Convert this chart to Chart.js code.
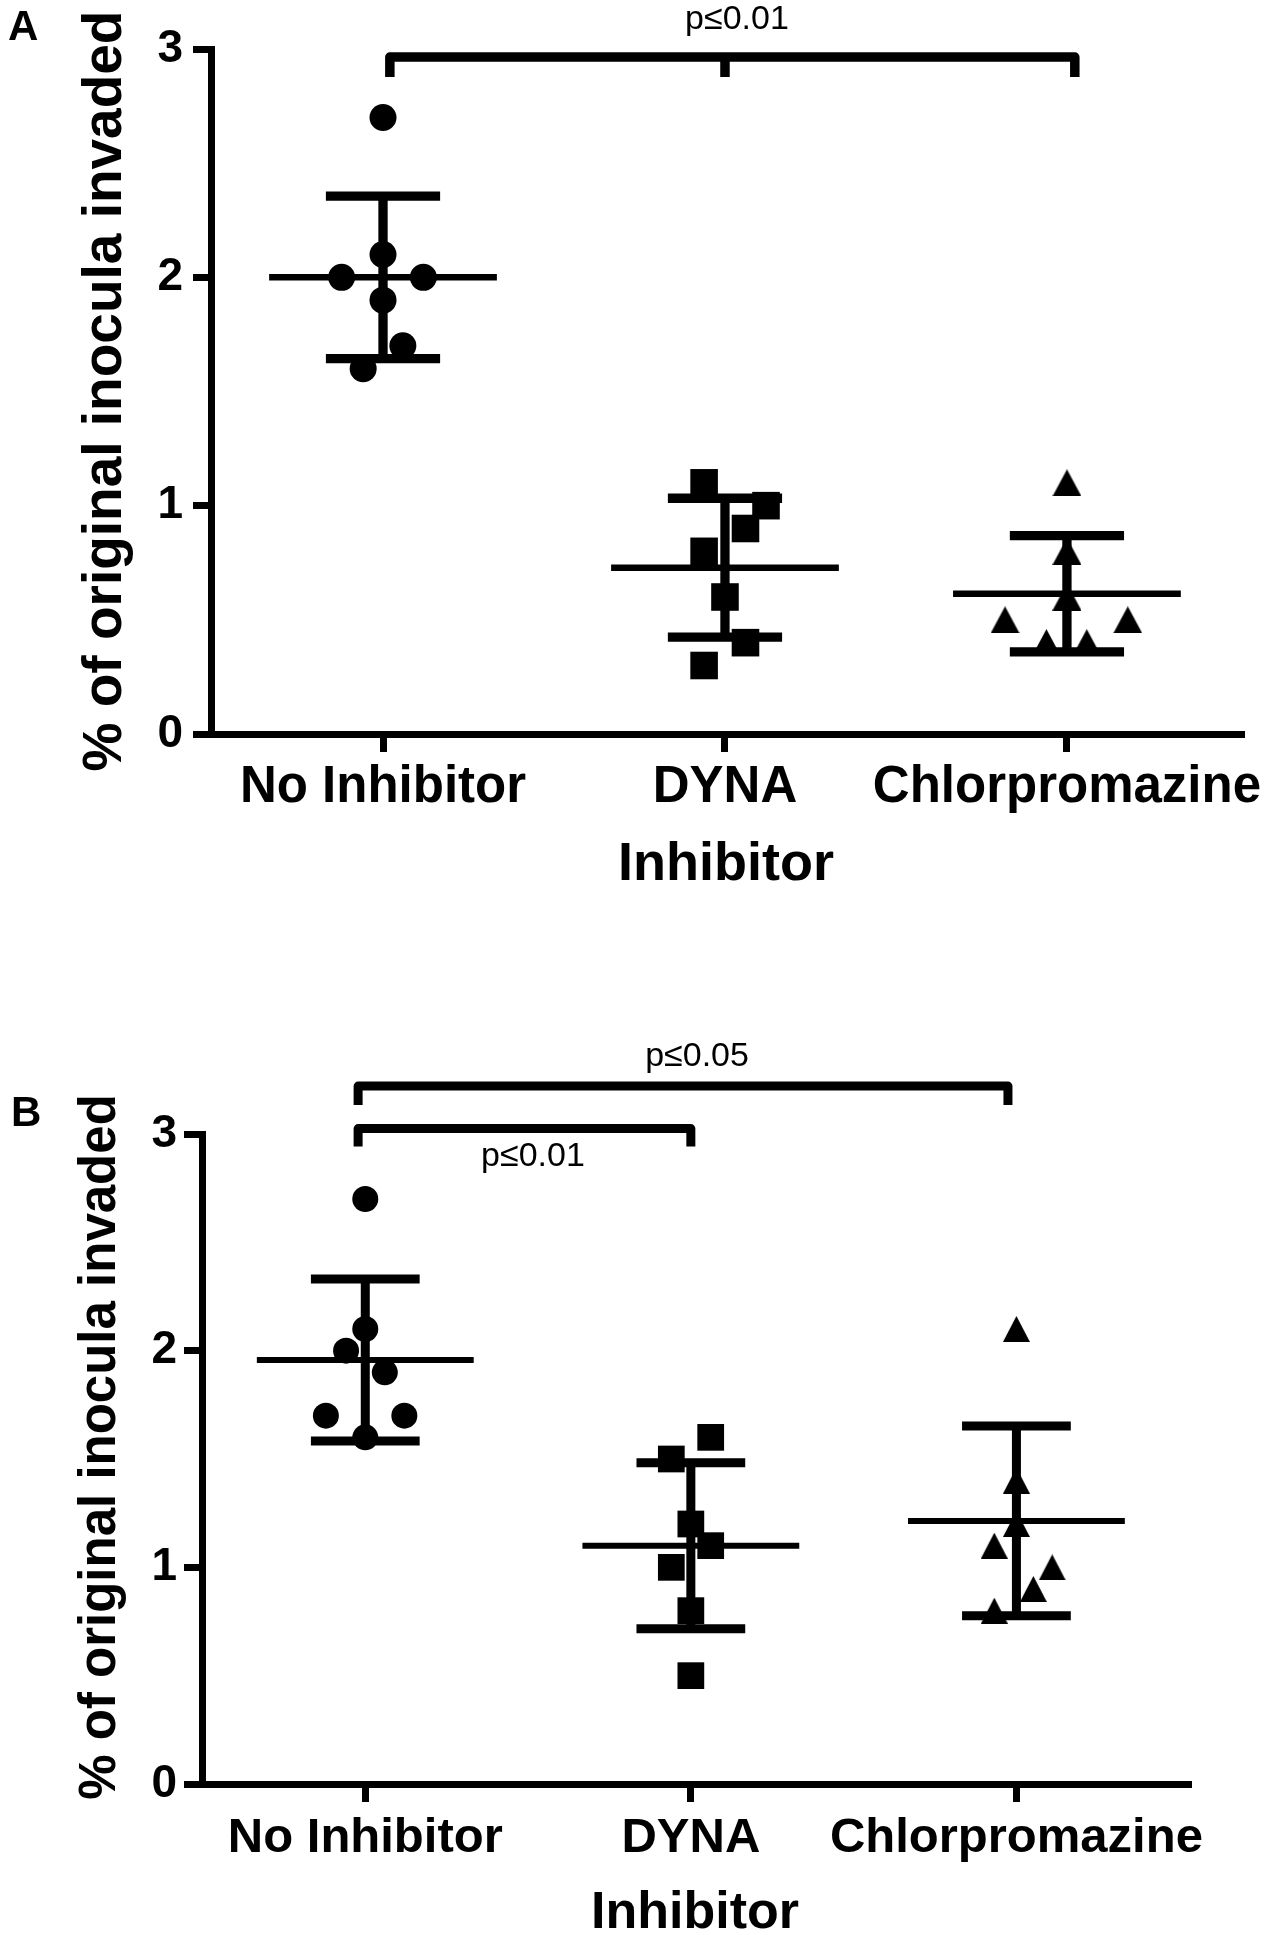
<!DOCTYPE html>
<html>
<head>
<meta charset="utf-8">
<script src="https://cdn.jsdelivr.net/npm/chart.js@4.4.1/dist/chart.umd.min.js"></script>
<style>
  html, body { margin: 0; padding: 0; background: #fff; overflow: hidden; }
  #wrap { position: relative; width: 1267px; height: 1935px; }
  canvas { position: absolute; left: 0; }
  #chartA { top: 0; }
  #chartB { top: 960px; }
</style>
</head>
<body>
<div id="wrap">
  <canvas id="chartA" width="1267" height="960"></canvas>
  <canvas id="chartB" width="1267" height="1000"></canvas>
</div>
<script>
const categories = ['No Inhibitor', 'DYNA', 'Chlorpromazine'];
const yTicks = [0, 1, 2, 3];
const yTitle = '% of original inocula invaded';

// panel A - % of inocula invaded, one value per well
const noInhibitorA = [2.7, 2.1, 2.0, 2.0, 1.9, 1.7, 1.6];
const dynaA = [1.1, 1.0, 0.9, 0.8, 0.6, 0.4, 0.3];
const chlorA = [1.1, 0.8, 0.6, 0.5, 0.5, 0.4, 0.4];
// sideways spread of the dots (category units)
const noInhibitorJitterA = [0, 0, -0.121, 0.118, 0, 0.058, -0.058];
const dynaJitterA = [-0.061, 0.12, 0.06, -0.061, 0, 0.06, -0.061];
const chlorJitterA = [0, 0, 0, -0.181, 0.178, -0.06, 0.058];
const comparisonsA = [{ from: 0, to: 2, text: 'p≤0.01' }];

// panel B
const noInhibitorB = [2.7, 2.1, 2.0, 1.9, 1.7, 1.7, 1.6];
const dynaB = [1.6, 1.5, 1.2, 1.1, 1.0, 0.8, 0.5];
const chlorB = [2.1, 1.4, 1.2, 1.1, 1.0, 0.9, 0.8];
const noInhibitorJitterB = [0, 0, -0.059, 0.06, -0.121, 0.12, 0];
const dynaJitterB = [0.061, -0.06, 0, 0.061, -0.06, 0, 0];
const chlorJitterB = [0, 0, 0, -0.068, 0.11, 0.052, -0.068];
const comparisonsB = [
  { from: 0, to: 2, text: 'p≤0.05' },
  { from: 0, to: 1, text: 'p≤0.01' }
];

const FONT = '"Liberation Sans", Arial, Helvetica, sans-serif';
Chart.defaults.font.family = FONT;
Chart.defaults.color = '#000';

const MEAN_HALF = 0.333;
const CAP_HALF = 0.167;

const mean = a => a.reduce((s, v) => s + v, 0) / a.length;
const sd = a => {
  const m = mean(a);
  return Math.sqrt(a.reduce((s, v) => s + (v - m) ** 2, 0) / (a.length - 1));
};

function makeTriangle(w, h) {
  const c = document.createElement('canvas');
  c.width = w;
  c.height = h;
  const g = c.getContext('2d');
  g.fillStyle = '#000';
  g.beginPath();
  g.moveTo(w / 2, 0);
  g.lineTo(w, h);
  g.lineTo(0, h);
  g.closePath();
  g.fill();
  return c;
}

// brackets, p-values, rotated y title and the panel letter
const annotate = {
  id: 'annotate',
  afterDatasetsDraw(chart, args, opts) {
    const { ctx } = chart;
    const x = chart.scales.x, y = chart.scales.y;
    ctx.save();
    ctx.strokeStyle = '#000';
    ctx.fillStyle = '#000';
    opts.comparisons.forEach((c, i) => {
      const b = opts.brackets[i];
      const xl = x.getPixelForValue(c.from + 1 + b.left);
      const xr = x.getPixelForValue(c.to + 1 + b.right);
      const yt = y.getPixelForValue(b.y);
      ctx.lineWidth = b.width;
      ctx.lineJoin = 'round';
      ctx.lineCap = 'butt';
      ctx.beginPath();
      ctx.moveTo(xl, yt + b.drop);
      ctx.lineTo(xl, yt);
      ctx.lineTo(xr, yt);
      ctx.lineTo(xr, yt + b.drop);
      if (b.mid !== undefined) {
        const xm = x.getPixelForValue(b.mid + 1);
        ctx.moveTo(xm, yt);
        ctx.lineTo(xm, yt + b.drop);
      }
      ctx.stroke();
      ctx.font = opts.pSize + 'px ' + FONT;
      ctx.textAlign = 'center';
      ctx.textBaseline = 'middle';
      ctx.fillText(c.text, x.getPixelForValue(b.textX), yt + b.textDy);
    });

    const t = opts.title;
    ctx.save();
    ctx.translate(t.x, t.y);
    ctx.rotate(-Math.PI / 2);
    ctx.font = 'bold ' + t.size + 'px ' + FONT;
    ctx.textAlign = 'center';
    ctx.textBaseline = 'middle';
    ctx.fillText(yTitle, 0, 0);
    ctx.restore();

    ctx.font = 'bold ' + opts.letter.size + 'px ' + FONT;
    ctx.textAlign = 'left';
    ctx.textBaseline = 'alphabetic';
    ctx.fillText(opts.letter.text, opts.letter.x, opts.letter.y);
    ctx.restore();
  }
};

function buildDatasets(groups, marks) {
  const sets = [];
  groups.forEach((g, i) => {
    const c = i + 1;
    const m = mean(g.values);
    const s = sd(g.values);
    sets.push({
      data: g.values.map((v, k) => ({ x: c + g.jitter[k], y: v })),
      pointStyle: marks.styles[i],
      pointRadius: marks.radius[i],
      backgroundColor: '#000',
      borderWidth: 0
    });
    sets.push({
      data: [{ x: c - MEAN_HALF, y: m }, { x: c + MEAN_HALF, y: m }],
      showLine: true,
      pointRadius: 0,
      borderColor: '#000',
      borderWidth: marks.meanWidth
    });
    sets.push({
      data: [
        { x: c - CAP_HALF, y: m + s }, { x: c + CAP_HALF, y: m + s }, { x: c, y: null },
        { x: c, y: m + s }, { x: c, y: m - s }, { x: c, y: null },
        { x: c - CAP_HALF, y: m - s }, { x: c + CAP_HALF, y: m - s }
      ],
      showLine: true,
      spanGaps: false,
      pointRadius: 0,
      borderColor: '#000',
      borderWidth: marks.sdWidth
    });
  });
  return sets;
}

function makeChart(canvas, groups, marks, L) {
  return new Chart(canvas, {
    type: 'scatter',
    data: { datasets: buildDatasets(groups, marks) },
    options: {
      responsive: false,
      animation: false,
      events: [],
      devicePixelRatio: 1,
      layout: { padding: { top: L.top, right: L.right, left: 0, bottom: 0 } },
      plugins: {
        legend: { display: false },
        tooltip: { enabled: false },
        annotate: L.annotate
      },
      scales: {
        x: {
          type: 'linear',
          min: L.xMin,
          max: L.xMax,
          afterBuildTicks: s => { s.ticks = categories.map((_, i) => ({ value: i + 1 })); },
          afterFit: s => { s.height = L.xHeight; s.paddingLeft = 0; s.paddingRight = 0; },
          ticks: {
            autoSkip: false,
            maxRotation: 0,
            color: '#000',
            padding: L.xTickPad,
            font: { size: L.xTickSize, weight: 'bold' },
            callback: v => categories[v - 1]
          },
          grid: { drawOnChartArea: false, tickLength: 18, lineWidth: 7, color: '#000' },
          border: { color: '#000', width: 7 },
          title: {
            display: true,
            text: 'Inhibitor',
            color: '#000',
            font: { size: L.xTitleSize, weight: 'bold' },
            padding: { top: 0, bottom: L.xTitlePad }
          }
        },
        y: {
          min: 0,
          max: 3,
          afterBuildTicks: s => { s.ticks = yTicks.map(v => ({ value: v })); },
          afterFit: s => { s.width = L.yWidth; s.paddingTop = 0; s.paddingBottom = 0; },
          ticks: {
            color: '#000',
            padding: L.yTickPad,
            font: { size: L.yTickSize, weight: 'bold' }
          },
          grid: { drawOnChartArea: false, tickLength: 18, lineWidth: 7, color: '#000' },
          border: { color: '#000', width: 7 }
        }
      }
    },
    plugins: [annotate]
  });
}

makeChart(document.getElementById('chartA'), [
  { values: noInhibitorA, jitter: noInhibitorJitterA },
  { values: dynaA, jitter: dynaJitterA },
  { values: chlorA, jitter: chlorJitterA }
], {
  styles: ['circle', 'rect', makeTriangle(29, 27)],
  radius: [13.5, 19.5, 14],
  meanWidth: 6.5,
  sdWidth: 9.3
}, {
  top: 49, right: 26, xMin: 0.497, xMax: 3.509,
  xHeight: 226, xTickPad: 5, xTickSize: 51, xTitleSize: 54, xTitlePad: 62,
  yWidth: 211, yTickPad: 10, yTickSize: 46,
  annotate: {
    comparisons: comparisonsA,
    brackets: [{ y: 2.965, drop: 20, left: 0.02, right: 0.023, mid: 1, width: 9.5, textX: 2.035, textDy: -37 }],
    pSize: 34,
    title: { x: 106, y: 391, size: 55 },
    letter: { text: 'A', x: 8, y: 40, size: 42 }
  }
});

makeChart(document.getElementById('chartB'), [
  { values: noInhibitorB, jitter: noInhibitorJitterB },
  { values: dynaB, jitter: dynaJitterB },
  { values: chlorB, jitter: chlorJitterB }
], {
  styles: ['circle', 'rect', makeTriangle(27, 26)],
  radius: [13, 18.9, 14],
  meanWidth: 6,
  sdWidth: 9
}, {
  top: 174, right: 79, xMin: 0.4985, xMax: 3.527,
  xHeight: 176, xTickPad: 7, xTickSize: 49, xTitleSize: 52, xTitlePad: 15,
  yWidth: 202, yTickPad: 7, yTickSize: 46,
  annotate: {
    comparisons: comparisonsB,
    brackets: [
      { y: 3.221, drop: 19, left: -0.022, right: -0.026, width: 9, textX: 2.019, textDy: -29 },
      { y: 3.025, drop: 18, left: -0.022, right: 0, width: 9, textX: 1.515, textDy: 28 }
    ],
    pSize: 34,
    title: { x: 101, y: 487, size: 51 },
    letter: { text: 'B', x: 11, y: 166, size: 42 }
  }
});
</script>
</body>
</html>
